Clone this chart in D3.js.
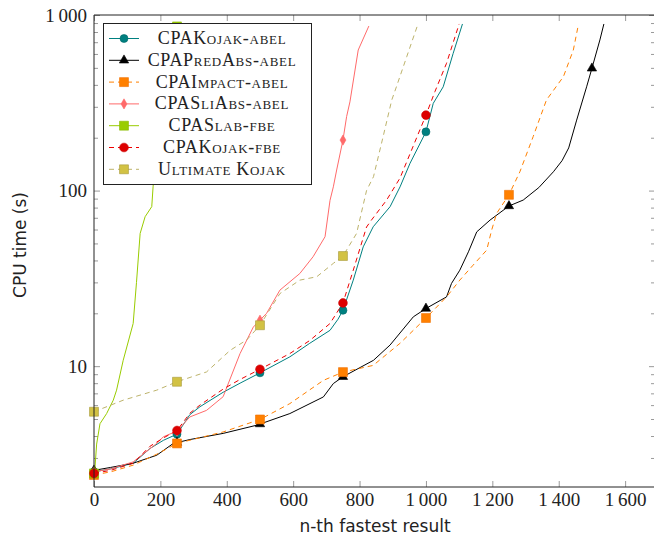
<!DOCTYPE html>
<html>
<head>
<meta charset="utf-8">
<script src="https://cdn.jsdelivr.net/npm/d3@7"></script>
<style>
    body { margin: 0; background: #fff; }
    .tick text { font-family: "Liberation Serif", serif; font-size: 19px; fill: #222; }
    .axis-title { font-family: "DejaVu Sans", sans-serif; font-size: 17px; fill: #222; }
    .legend-text { font-family: "Liberation Serif", serif; font-size: 18px; font-variant: small-caps; letter-spacing: 0.7px; fill: #222; }
</style>
</head>
<body>
<div id="chart"></div>
<script>
// series values: [n-th result, cpu time in s]
const kojakAbel = [[0,2.5],[50,2.6],[118,2.8],[169,3.4],[209,3.78],[250,4.1],[289,5.3],[319,5.87],[389,7.1],[440,8.0],[500,9.16],
    [590,11.3],[650,13.5],[711,16],[735,18.5],[750,20.8],[781,30.9],[811,47.8],[841,62.2],[892,81],[922,105],[952,143],
    [1000,216],[1022,314],[1052,390],[1082,605],[1110,889]];
const predAbsAbel = [[0,2.55],[50,2.65],[118,2.8],[189,3.11],[239,3.63],[289,3.82],[389,4.14],[490,4.61],[590,5.37],[691,6.68],
    [721,7.96],[750,8.7],[842,10.8],[892,13.2],[962,19.1],[1000,21.3],[1062,24.8],[1077,29.6],[1102,35.2],[1128,44.8],
    [1153,58.2],[1193,67.9],[1250,81.7],[1293,88.3],[1340,104],[1384,128],[1410,148],[1430,175],[1454,252],[1484,390],[1500,497],
    [1524,721],[1536,889]];
const impactAbel = [[0,2.4],[50,2.5],[118,2.73],[189,3.15],[250,3.63],[389,4.22],[500,4.97],[590,6.12],[691,8.3],[750,9.25],
    [841,10.1],[922,13.5],[1000,18.8],[1062,24.8],[1102,30.9],[1142,37.6],[1183,45.8],[1198,59.6],[1213,74.2],[1250,94.6],
    [1283,128],[1323,203],[1363,328],[1414,445],[1444,632],[1459,877]];
const sliAbsAbel = [[0,2.5],[50,2.6],[118,2.85],[189,3.63],[209,3.96],[250,4.27],[289,5.14],[339,5.6],[389,6.7],[440,11.8],
    [480,16.7],[520,20],[560,27.1],[620,33.7],[660,42],[696,54.6],[711,88],[721,105],[731,131],[750,194],[761,264],
    [771,320],[796,632],[828,865]];
const slabFbe = [[0,2.45],[3,2.65],[8,3.6],[18,4.7],[38,5.37],[58,6.4],[68,7.3],[88,10.8],[118,17.5],[128,30],[139,57],
    [154,71],[174,81],[178,105],[185,160],[200,270],[220,450],[240,700],[252,897]];
const kojakFbe = [[0,2.45],[50,2.55],[118,2.8],[169,3.5],[209,3.9],[250,4.3],[289,5.4],[319,6.0],[389,7.4],[440,8.4],[500,9.6],
    [590,11.8],[650,14],[711,17.5],[750,22.9],[781,35.2],[821,62],[836,68],[881,88],[922,118],[962,180],[1000,269],
    [1027,366],[1062,531],[1100,889]];
const ultimateKojak = [[0,5.5],[88,6.4],[189,7.3],[250,8.15],[339,9.27],[410,12.3],[460,14.1],[500,17.1],[560,25.9],[620,30.9],
    [671,32.3],[721,38.5],[750,42.4],[791,57],[821,100],[842,120],[871,203],[897,328],[911,390],[942,578],[976,889]];

const seriesNames = ["CPAKojak-abel", "CPAPredAbs-abel", "CPAImpact-abel", "CPASliAbs-abel", "CPASlab-fbe", "CPAKojak-fbe", "Ultimate Kojak"];
const seriesData = [kojakAbel, predAbsAbel, impactAbel, sliAbsAbel, slabFbe, kojakFbe, ultimateKojak];
const xTicks = [0, 200, 400, 600, 800, 1000, 1200, 1400, 1600];
const yTicks = [10, 100, 1000];
const markEvery = [0, 250, 500, 750, 1000, 1250, 1500];

// styles per series
const styles = [
    {color: "#008080", dash: null, mark: d3.symbolCircle, size: 50, fill: "#008080", stroke: "#006868"},
    {color: "#000000", dash: null, mark: d3.symbolTriangle, size: 38, fill: "#000", stroke: "#000"},
    {color: "#ff8000", dash: "5,4", mark: d3.symbolSquare, size: 80, fill: "#ff8000", stroke: "#f07000"},
    {color: "#ff6a6a", dash: null, mark: d3.symbolDiamond, size: 30, fill: "#ff6a6a", stroke: "#ff6a6a"},
    {color: "#99cc00", dash: null, mark: d3.symbolSquare, size: 80, fill: "#99cc00", stroke: "#88b800"},
    {color: "#ee0000", dash: "5,4", mark: d3.symbolCircle, size: 60, fill: "#dd0000", stroke: "#cc0000"},
    {color: "#bdb36b", dash: "5,4", mark: d3.symbolSquare, size: 80, fill: "#d2c244", stroke: "#a89a3a"}
];

const width = 654, height = 540;
const margin = {top: 15, right: -1, bottom: 53, left: 94};

let svg = d3.select("#chart").append("svg")
    .attr("width", width)
    .attr("height", height);

let x = d3.scaleLinear().domain([0, 1690]).range([margin.left, width - margin.right]);
let y = d3.scaleLog().domain([2.05, 1000]).range([height - margin.bottom, margin.top]);

let fmt = d3.formatLocale({decimal: ".", thousands: "\u2009", grouping: [3], currency: ["", ""]}).format(",");

// minor ticks on the log axis
let yMinor = [];
[1, 10, 100].forEach(b => {
    for (let k = 2; k <= 9; k++) {
        if (b * k >= 2.05) yMinor.push(b * k);
    }
});

let x0 = x.range()[0], x1 = x.range()[1], y0 = y.range()[0], y1 = y.range()[1];

// axes, ticks pointing inward
let bottomAxis = svg.append("g").attr("transform", `translate(0,${y0})`)
    .call(d3.axisBottom(x).tickValues(xTicks).tickSize(-6).tickPadding(6).tickFormat(fmt));
let topAxis = svg.append("g").attr("transform", `translate(0,${y1})`)
    .call(d3.axisTop(x).tickValues(xTicks).tickSize(-6).tickFormat(""));
let leftAxis = svg.append("g").attr("transform", `translate(${x0},0)`)
    .call(d3.axisLeft(y).tickValues(yTicks).tickSize(-6).tickPadding(7).tickFormat(fmt));
let leftMinor = svg.append("g").attr("transform", `translate(${x0},0)`)
    .call(d3.axisLeft(y).tickValues(yMinor).tickSize(-4).tickFormat(""));
let rightAxis = svg.append("g").attr("transform", `translate(${x1},0)`)
    .call(d3.axisRight(y).tickValues(yTicks).tickSize(-6).tickFormat(""));
let rightMinor = svg.append("g").attr("transform", `translate(${x1},0)`)
    .call(d3.axisRight(y).tickValues(yMinor).tickSize(-4).tickFormat(""));

[bottomAxis, topAxis, leftAxis, leftMinor, rightAxis, rightMinor].forEach(a => {
    a.select(".domain").remove();
    a.selectAll(".tick line").attr("stroke", "#9a9a9a").attr("stroke-width", 1);
});

// clip for the curves
svg.append("clipPath").attr("id", "plotClip")
    .append("rect").attr("x", x0).attr("y", y1).attr("width", x1 - x0).attr("height", y0 - y1);

let line = d3.line().x(d => x(d[0])).y(d => y(d[1]));

// value of a series at n, interpolated in log space
function valueAt(data, n) {
    for (let i = 0; i < data.length - 1; i++) {
        let a = data[i], b = data[i + 1];
        if (n >= a[0] && n <= b[0]) {
            let t = (n - a[0]) / (b[0] - a[0]);
            return Math.exp(Math.log(a[1]) + t * (Math.log(b[1]) - Math.log(a[1])));
        }
    }
    return null;
}

seriesData.forEach((data, i) => {
    let s = styles[i];
    svg.append("path")
        .datum(data)
        .attr("clip-path", "url(#plotClip)")
        .attr("fill", "none")
        .attr("stroke", s.color)
        .attr("stroke-width", 1)
        .attr("stroke-dasharray", s.dash)
        .attr("d", line);

    let marks = markEvery.filter(n => n <= data[data.length - 1][0]).map(n => [n, valueAt(data, n)]);
    svg.append("g").selectAll("path")
        .data(marks)
        .enter()
        .append("path")
        .attr("transform", d => `translate(${x(d[0])},${y(d[1])})`)
        .attr("d", d3.symbol().type(s.mark).size(s.size))
        .attr("fill", s.fill)
        .attr("stroke", s.stroke)
        .attr("stroke-width", 0.6);
});

// frame
svg.append("path")
    .attr("d", `M${x0},${y1}H${x1}M${x0},${y1}V${y0}H${x1}`)
    .attr("fill", "none")
    .attr("stroke", "#222")
    .attr("stroke-width", 1);

// axis titles
svg.append("text").attr("class", "axis-title")
    .attr("x", 375).attr("y", 532)
    .attr("text-anchor", "middle")
    .text("n-th fastest result");
svg.append("text").attr("class", "axis-title")
    .attr("transform", `translate(26,${(y0 + y1) / 2 - 6}) rotate(-90)`)
    .attr("text-anchor", "middle")
    .text("CPU time (s)");

// legend
let legend = svg.append("g");
legend.append("rect")
    .attr("x", 103.5).attr("y", 23.5)
    .attr("width", 208).attr("height", 161)
    .attr("fill", "#fff").attr("stroke", "#222").attr("stroke-width", 1);

seriesNames.forEach((name, i) => {
    let s = styles[i];
    let ly = 38.5 + i * 21.8;
    legend.append("line")
        .attr("x1", 109).attr("x2", 139).attr("y1", ly).attr("y2", ly)
        .attr("stroke", s.color).attr("stroke-width", 1)
        .attr("stroke-dasharray", s.dash);
    legend.append("path")
        .attr("transform", `translate(124,${ly})`)
        .attr("d", d3.symbol().type(s.mark).size(s.size))
        .attr("fill", s.fill).attr("stroke", s.stroke).attr("stroke-width", 0.6);
    legend.append("text").attr("class", "legend-text")
        .attr("x", 222).attr("y", ly + 5.5)
        .attr("text-anchor", "middle")
        .text(name);
});
</script>
</body>
</html>
